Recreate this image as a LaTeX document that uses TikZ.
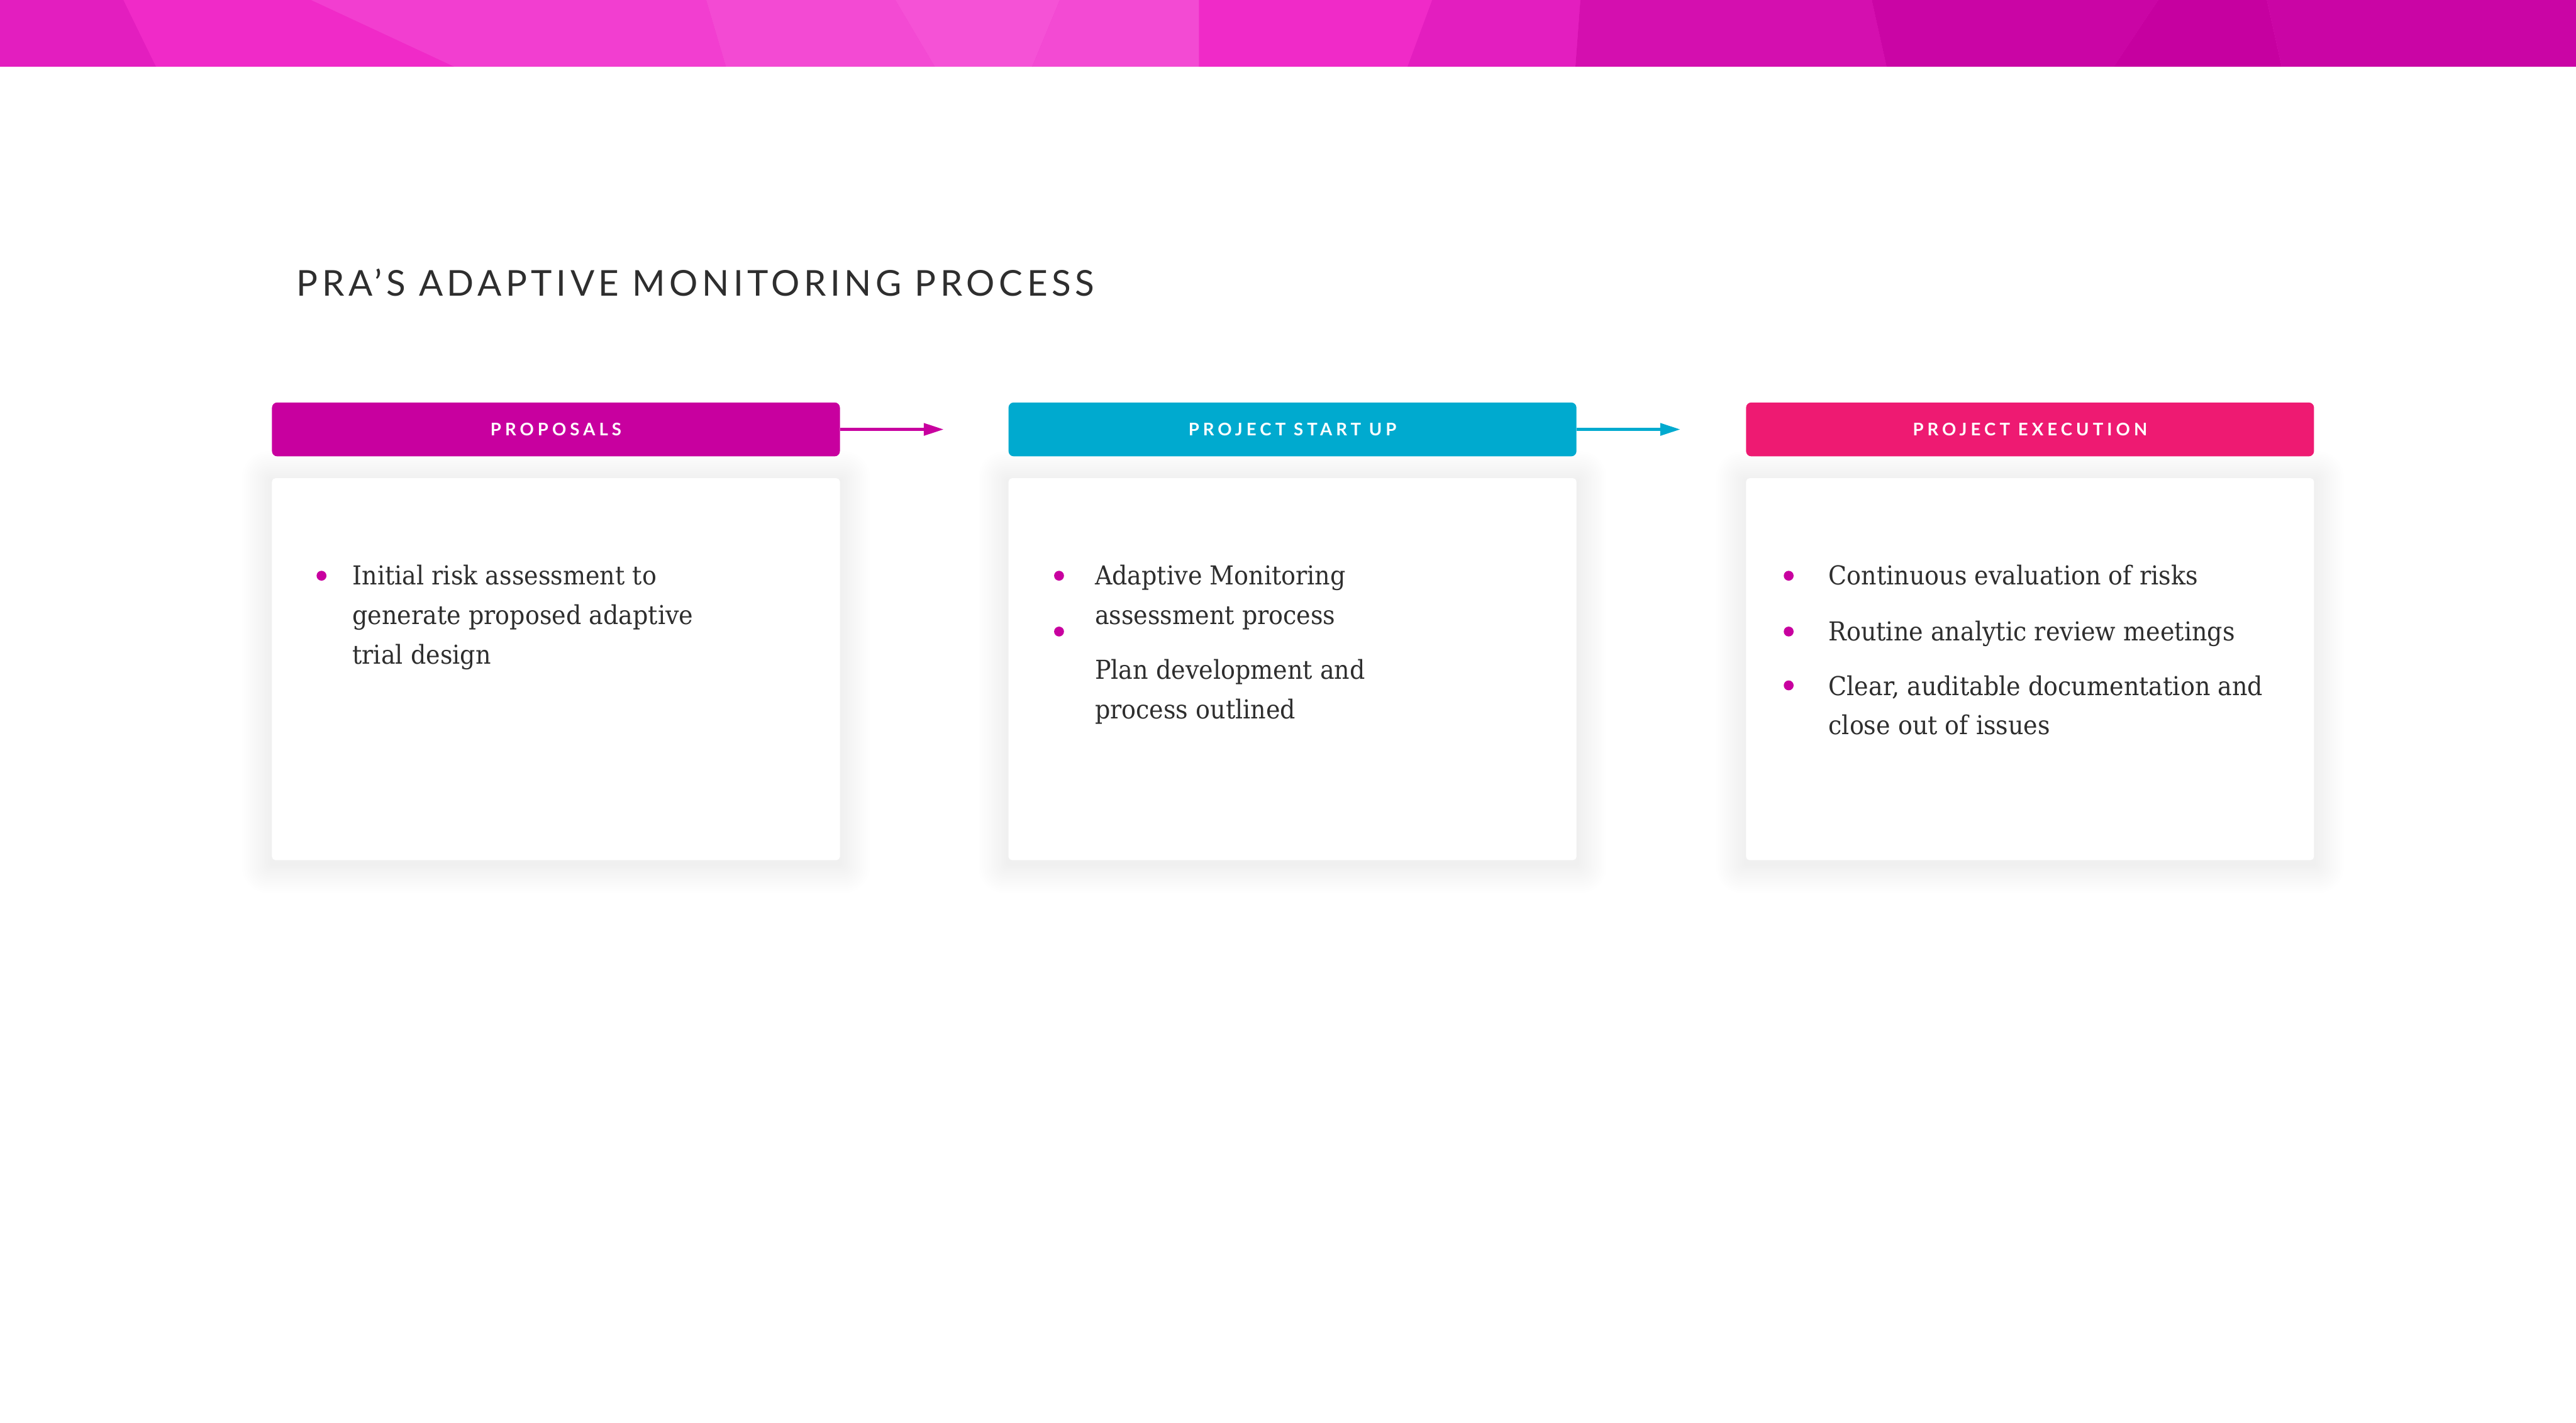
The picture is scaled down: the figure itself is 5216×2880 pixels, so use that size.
\documentclass[tikz,border=0pt]{standalone}
\usepackage{fontspec}
\usepackage{tikz}
\usetikzlibrary{arrows.meta,positioning,calc,backgrounds}
\usepackage{xcolor}
\newfontfamily\bodyfont[FakeStretch=0.92]{DejaVu Serif}
\newfontfamily\headfont[LetterSpace=22]{Lato}
\newfontfamily\titlefont[LetterSpace=11.5]{Lato}
\definecolor{ink}{HTML}{2E2E2E}
\definecolor{plum}{HTML}{C8009F}
\definecolor{lagoon}{HTML}{00AACF}
\definecolor{rosebar}{HTML}{EE1A72}
\definecolor{bandA}{HTML}{E31EBF}
\definecolor{bandB}{HTML}{F02AC8}
\definecolor{bandC}{HTML}{F23ED0}
\definecolor{bandD}{HTML}{F552D6}
\definecolor{bandE}{HTML}{F34AD3}
\definecolor{bandF}{HTML}{D40FAF}
\definecolor{bandG}{HTML}{CA05A5}
\definecolor{bandH}{HTML}{C600A0}

\begin{document}
\begin{tikzpicture}[x=0.1mm,y=-0.1mm,
  bar/.style={rounded corners=3pt,minimum width=115mm,minimum height=10.9mm,inner sep=0pt,text=white,font=\headfont\bfseries\fontsize{10}{12}\selectfont},
  card/.style={fill=white,rounded corners=2pt,minimum width=115mm,minimum height=77.3mm,inner sep=0pt},
  body/.style={anchor=north west,inner sep=0pt,align=left,text=ink,font=\bodyfont\fontsize{15}{22.8}\selectfont},
  dot/.style={circle,fill=plum,minimum size=2mm,inner sep=0pt},
  flow/.style={line width=2pt,-{Triangle[length=4.1mm,width=2.4mm]}},
  title/.style={anchor=base west,inner sep=0pt,text=ink,font=\titlefont\fontsize{20.5}{24}\selectfont}]
 \useasboundingbox (0,0) rectangle (5216,2880);
 % banner facets
 \fill[bandB] (0,0) rectangle (5216,135);
 \fill[bandA] (0,0) -- (250,0) -- (316,135) -- (0,135) -- cycle;
 \fill[bandB] (250,0) -- (630,0) -- (920,135) -- (316,135) -- cycle;
 \fill[bandC] (630,0) -- (1430,0) -- (1470,135) -- (920,135) -- cycle;
 \fill[bandE] (1430,0) -- (1813,0) -- (1893,135) -- (1470,135) -- cycle;
 \fill[bandD] (1813,0) -- (2146,0) -- (2090,135) -- (1893,135) -- cycle;
 \fill[bandE] (2146,0) -- (2428,0) -- (2428,135) -- (2090,135) -- cycle;
 \fill[bandB] (2428,0) -- (2900,0) -- (2850,135) -- (2428,135) -- cycle;
 \fill[bandA] (2900,0) -- (3200,0) -- (3190,135) -- (2850,135) -- cycle;
 \fill[bandF] (3200,0) -- (3790,0) -- (3820,135) -- (3190,135) -- cycle;
 \fill[bandG] (3790,0) -- (4370,0) -- (4280,135) -- (3820,135) -- cycle;
 \fill[bandH] (4370,0) -- (4590,0) -- (4620,135) -- (4280,135) -- cycle;
 \fill[bandG] (4590,0) -- (5216,0) -- (5216,135) -- (4620,135) -- cycle;

 \node[title] (title) at (600,599) {PRA’S ADAPTIVE MONITORING PROCESS};

 % stage headers
 \node[bar,fill=plum,anchor=north west] (prop) at (550,814) {PROPOSALS};
 \node[bar,fill=lagoon,right=3.40cm of prop] (start) {PROJECT START UP};
 \node[bar,fill=rosebar,right=3.42cm of start] (exec) {PROJECT EXECUTION};
 \coordinate[right=2.10cm of prop.east] (propend);
 \coordinate[right=2.10cm of start.east] (startend);
 \draw[flow,plum] (prop.east) -- (propend);
 \draw[flow,lagoon] (start.east) -- (startend);

 % cards
 \node[card,below=0.43cm of prop] (propcard) {};
 \node[card,below=0.43cm of start] (startcard) {};
 \node[card,below=0.43cm of exec] (execcard) {};
 \begin{scope}[on background layer]
  \foreach \n in {propcard,startcard,execcard}
   \foreach \k in {1,...,15}
    \fill[black,opacity=0.0022,rounded corners=\k pt] ($(\n.north west)+(-4*\k,-4*\k+6)$) rectangle ($(\n.south east)+(4*\k,4*\k+6)$);
 \end{scope}

 \node[dot] (propdot) at ($(propcard.north west)+(101,198)$) {};
 \node[body] (propitem) at ($(propcard.north west)+(163,176)$) {Initial risk assessment to\\generate proposed adaptive\\trial design};

 \node[dot] (startdota) at ($(startcard.north west)+(103,198)$) {};
 \node[dot] (startdotb) at ($(startcard.north west)+(103,311)$) {};
 \node[body] (startitema) at ($(startcard.north west)+(175,176)$) {Adaptive Monitoring\\assessment process};
 \node[body] (startitemb) at ($(startcard.north west)+(175,367)$) {Plan development and\\process outlined};

 \node[dot] (execdota) at ($(execcard.north west)+(87,198)$) {};
 \node[dot] (execdotb) at ($(execcard.north west)+(87,311)$) {};
 \node[dot] (execdotc) at ($(execcard.north west)+(87,420)$) {};
 \node[body] (execitema) at ($(execcard.north west)+(167,176)$) {Continuous evaluation of risks};
 \node[body] (execitemb) at ($(execcard.north west)+(167,289)$) {Routine analytic review meetings};
 \node[body] (execitemc) at ($(execcard.north west)+(167,399)$) {Clear, auditable documentation and\\close out of issues};
\end{tikzpicture}
\end{document}
